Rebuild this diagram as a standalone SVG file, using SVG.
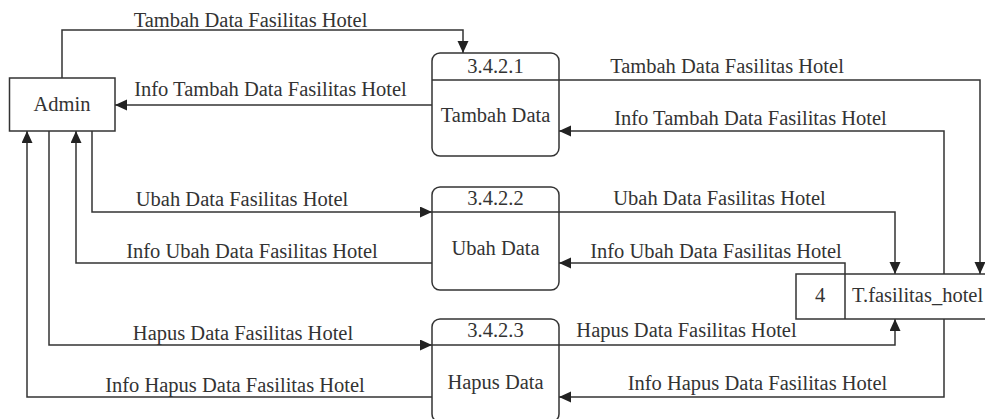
<svg xmlns="http://www.w3.org/2000/svg" width="985" height="419" viewBox="0 0 985 419">
<defs>
<marker id="arr" markerUnits="userSpaceOnUse" markerWidth="13" markerHeight="12" refX="12" refY="5.5" orient="auto">
<path d="M0,0 L12,5.5 L0,11 z" fill="#222"/>
</marker>
</defs>
<style>
.box{fill:#fff;stroke:#333;stroke-width:1.5}
.ln{fill:none;stroke:#333;stroke-width:1.5;marker-end:url(#arr)}
.dv{stroke:#333;stroke-width:1.5}
text{font-family:'Liberation Serif','Times New Roman',Times,serif;font-size:20.5px;fill:#333}
.c{text-anchor:middle}
</style>
<rect width="985" height="419" fill="#fff"/>
<g id="connectors" font-family="Liberation Serif, Times New Roman, serif">
<polyline class="ln" points="62,78 62,30 463,30 463,53"/>
<polyline class="ln" points="432,105 115,105"/>
<polyline class="ln" points="559,80 980,80 980,274"/>
<polyline class="ln" points="944,274 944,131 559,131"/>
<polyline class="ln" points="92,131 92,212 432,212"/>
<polyline class="ln" points="432,263 76,263 76,131"/>
<polyline class="ln" points="559,212 895,212 895,274"/>
<polyline class="ln" points="845,274 845,263 559,263"/>
<polyline class="ln" points="49,131 49,345 432,345"/>
<polyline class="ln" points="432,397 27,397 27,131"/>
<polyline class="ln" points="559,345 895,345 895,319"/>
<polyline class="ln" points="944,319 944,397 559,397"/>
<text class="c" x="250.5" y="27">Tambah Data Fasilitas Hotel</text>
<text class="c" x="270.5" y="96">Info Tambah Data Fasilitas Hotel</text>
<text class="c" x="727" y="73">Tambah Data Fasilitas Hotel</text>
<text class="c" x="750.5" y="125">Info Tambah Data Fasilitas Hotel</text>
<text class="c" x="242" y="206">Ubah Data Fasilitas Hotel</text>
<text class="c" x="719.5" y="205">Ubah Data Fasilitas Hotel</text>
<text class="c" x="252" y="258">Info Ubah Data Fasilitas Hotel</text>
<text class="c" x="716" y="258">Info Ubah Data Fasilitas Hotel</text>
<text class="c" x="243" y="340">Hapus Data Fasilitas Hotel</text>
<text class="c" x="686.5" y="337">Hapus Data Fasilitas Hotel</text>
<text class="c" x="235" y="392">Info Hapus Data Fasilitas Hotel</text>
<text class="c" x="757.5" y="390">Info Hapus Data Fasilitas Hotel</text>
</g>
<g id="admin">
<rect class="box" x="9.5" y="78" width="105.5" height="53"/>
<text class="c" x="62" y="111">Admin</text>
</g>
<g id="p1">
<rect class="box" x="432" y="53" width="127" height="103" rx="8"/>
<line class="dv" x1="432" y1="80" x2="559" y2="80"/>
<text class="c" x="495.5" y="73">3.4.2.1</text>
<text class="c" x="495.5" y="122">Tambah Data</text>
</g>
<g id="p2">
<rect class="box" x="432" y="187" width="127" height="103" rx="8"/>
<line class="dv" x1="432" y1="212" x2="559" y2="212"/>
<text class="c" x="495.5" y="205">3.4.2.2</text>
<text class="c" x="495.5" y="255">Ubah Data</text>
</g>
<g id="p3">
<rect class="box" x="432" y="319" width="127" height="103" rx="8"/>
<line class="dv" x1="432" y1="345" x2="559" y2="345"/>
<text class="c" x="495.5" y="337">3.4.2.3</text>
<text class="c" x="495.5" y="389">Hapus Data</text>
</g>
<g id="store">
<rect class="box" x="796" y="274" width="195" height="45"/>
<line class="dv" x1="845" y1="274" x2="845" y2="319"/>
<text class="c" x="820" y="302">4</text>
<text x="852" y="302">T.fasilitas_hotel</text>
</g>
</svg>
